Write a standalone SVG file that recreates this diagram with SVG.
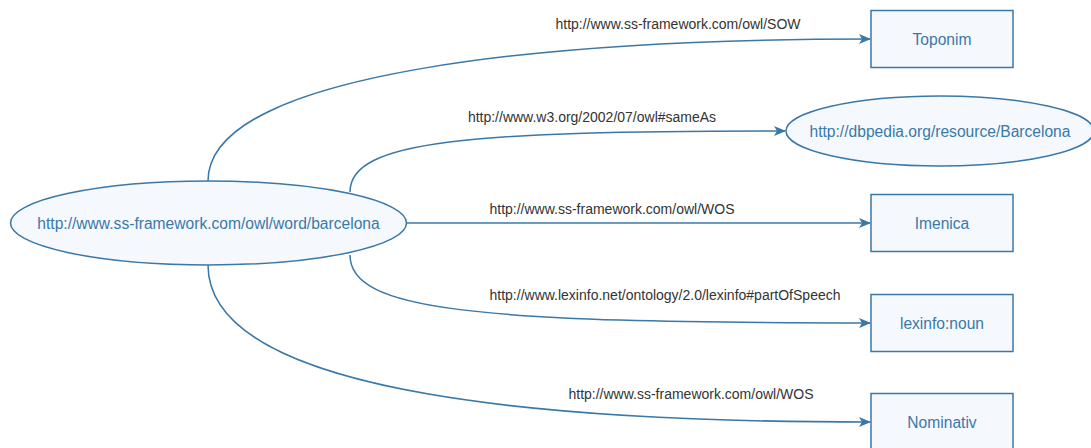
<svg xmlns="http://www.w3.org/2000/svg" width="1091" height="448" viewBox="0 0 1091 448">
<style>
.node{fill:#f5f9fe;stroke:#3a78a8;stroke-width:1.5}
.nt{font-family:"Liberation Sans",Arial,sans-serif;font-size:15.6px;fill:#3a78a8;text-anchor:middle;dominant-baseline:central}
.edge{fill:none;stroke:#3a78a8;stroke-width:1.5}
.el{font-family:"Liberation Sans",Arial,sans-serif;font-size:14px;fill:#333;text-anchor:middle}
</style>
<defs>
<marker id="arr" viewBox="0 0 12 10" refX="11" refY="5" markerWidth="12" markerHeight="10" markerUnits="userSpaceOnUse" orient="auto">
<path d="M0,0 L12,5 L0,10 L3,5 Z" fill="#3a78a8"/>
</marker>
</defs>
<rect width="1091" height="448" fill="#fff"/>
<g id="edges">
<path class="edge" d="M208,181 C208,70 560,39 870,39" marker-end="url(#arr)"/>
<path class="edge" d="M350,192 C350,140 470,131 785,131" marker-end="url(#arr)"/>
<path class="edge" d="M407,223 L870,223" marker-end="url(#arr)"/>
<path class="edge" d="M350,255 C350,310 470,323 870,323" marker-end="url(#arr)"/>
<path class="edge" d="M208,265 C208,390 520,422 870,422" marker-end="url(#arr)"/>
<text class="el" x="678" y="29">http://www.ss-framework.com/owl/SOW</text>
<text class="el" x="592" y="122">http://www.w3.org/2002/07/owl#sameAs</text>
<text class="el" x="612" y="214">http://www.ss-framework.com/owl/WOS</text>
<text class="el" x="665" y="300">http://www.lexinfo.net/ontology/2.0/lexinfo#partOfSpeech</text>
<text class="el" x="691" y="399">http://www.ss-framework.com/owl/WOS</text>
</g>
<g id="barcelona">
<ellipse class="node" cx="208.5" cy="223" rx="198" ry="42"/>
<text class="nt" x="208.5" y="223">http://www.ss-framework.com/owl/word/barcelona</text>
</g>
<g id="dbpedia">
<ellipse class="node" cx="940" cy="131" rx="154" ry="35"/>
<text class="nt" x="940" y="131">http://dbpedia.org/resource/Barcelona</text>
</g>
<g id="toponim">
<rect class="node" x="871" y="10.5" width="142" height="57"/>
<text class="nt" x="942" y="39">Toponim</text>
</g>
<g id="imenica">
<rect class="node" x="871" y="194.5" width="142" height="57"/>
<text class="nt" x="942" y="223">Imenica</text>
</g>
<g id="noun">
<rect class="node" x="871" y="294.5" width="142" height="57"/>
<text class="nt" x="942" y="323">lexinfo:noun</text>
</g>
<g id="nominativ">
<rect class="node" x="871" y="393.5" width="142" height="57"/>
<text class="nt" x="942" y="422">Nominativ</text>
</g>
</svg>
